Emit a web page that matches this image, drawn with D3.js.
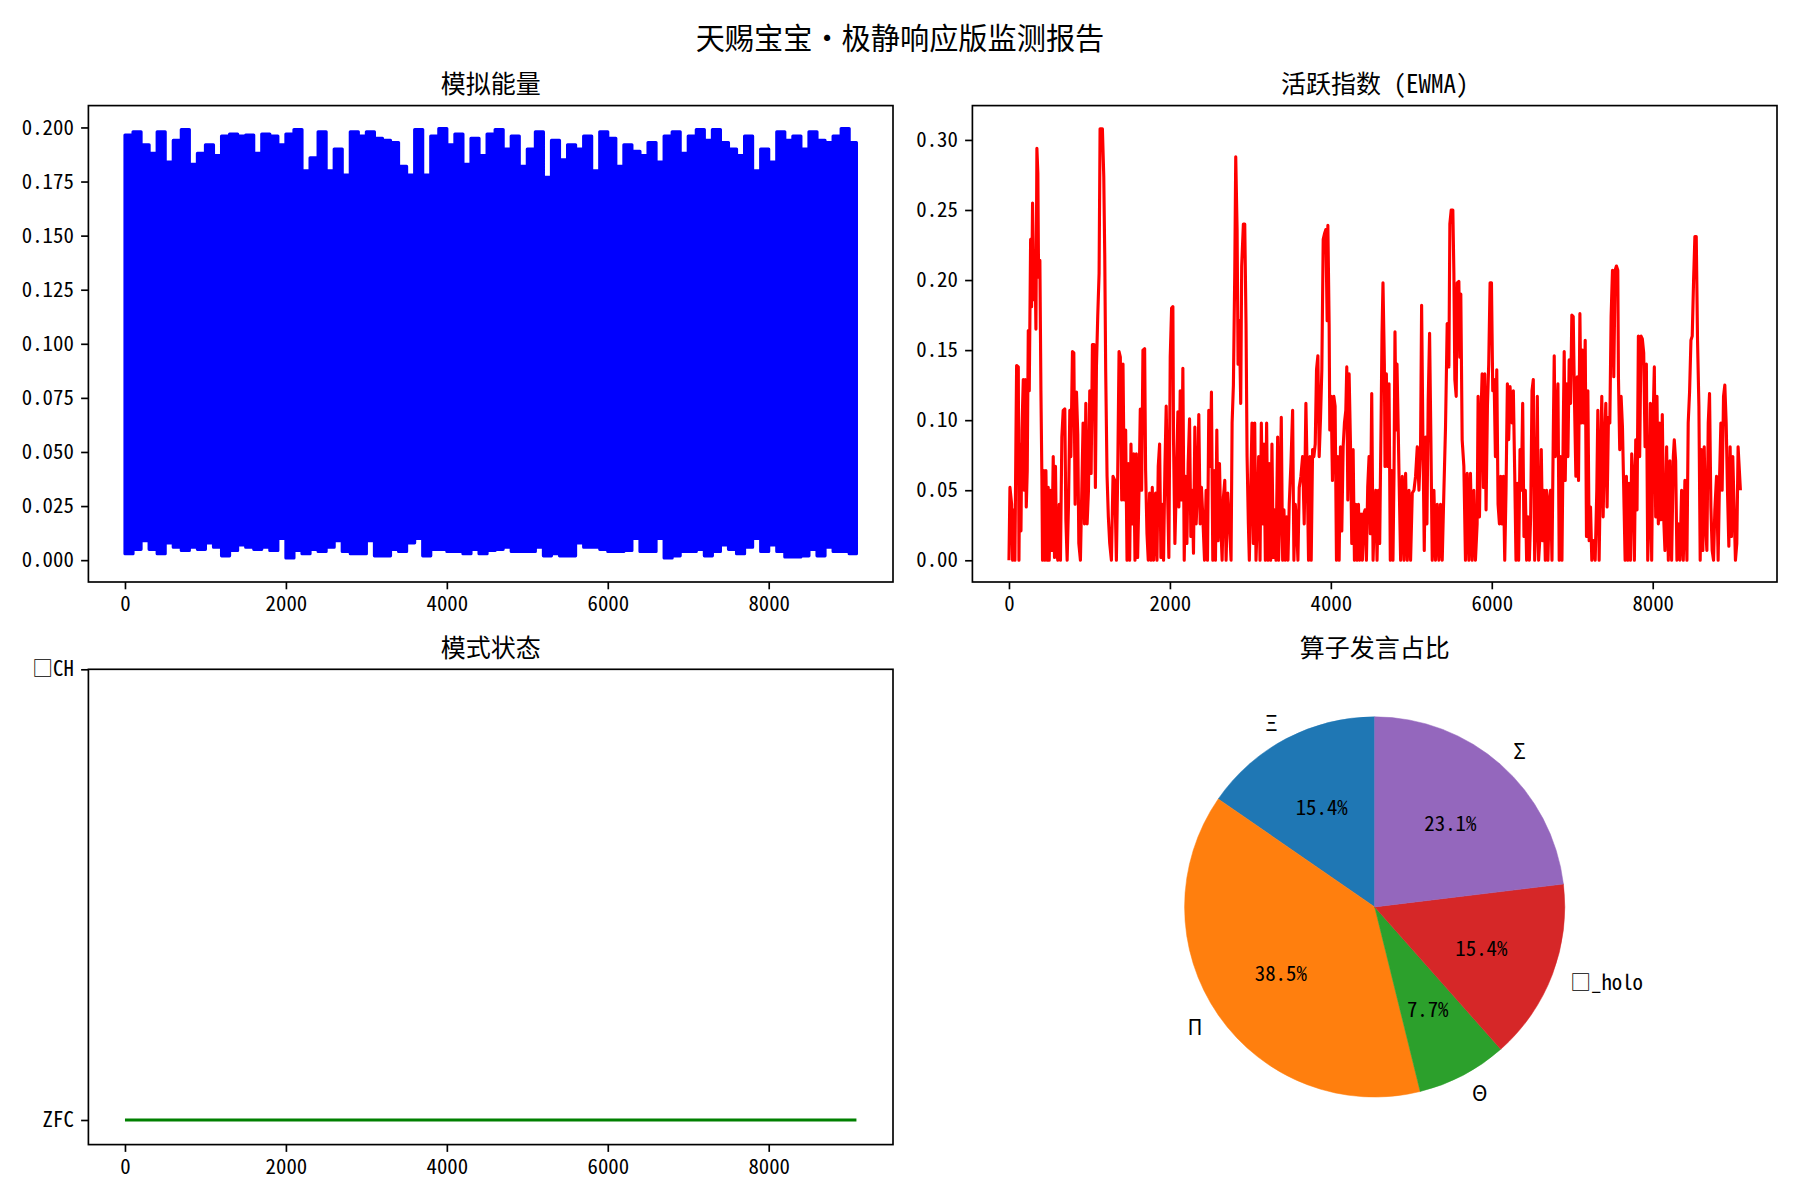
<!DOCTYPE html>
<html><head><meta charset="utf-8">
<script src="https://cdn.jsdelivr.net/npm/d3@7"></script>
<style>
body{margin:0;background:#fff}
text{font-family:"Noto Sans CJK SC","Noto Sans",sans-serif;}
.hw{font-feature-settings:"hwid" 1;}
</style></head><body>
<svg id="chart" width="1800" height="1200"></svg>
<script>
// ---------------- DATA ----------------
const suptitle = "天赐宝宝・极静响应版监测报告";
const panelTitles = ["模拟能量", "活跃指数 (EWMA)", "模式状态", "算子发言占比"];
const lastIndex = 9090;               // samples 0 .. 9090
const xTickValues = [0, 2000, 4000, 6000, 8000];

// 模拟能量: per-100-sample envelope (max / min)
const energyBin = 100;
const energyHigh = [0.1965,0.198,0.192,0.188,0.198,0.184,0.194,0.199,0.183,0.188,
 0.192,0.187,0.196,0.197,0.196,0.1965,0.188,0.197,0.196,0.192,
 0.197,0.199,0.180,0.186,0.198,0.180,0.190,0.178,0.198,0.196,
 0.198,0.195,0.194,0.193,0.182,0.178,0.199,0.178,0.196,0.1995,
 0.192,0.197,0.183,0.195,0.187,0.197,0.199,0.190,0.196,0.182,
 0.190,0.198,0.177,0.194,0.185,0.192,0.190,0.196,0.180,0.198,
 0.195,0.182,0.192,0.189,0.187,0.193,0.184,0.196,0.198,0.188,
 0.196,0.199,0.194,0.199,0.193,0.190,0.187,0.196,0.180,0.190,
 0.184,0.198,0.194,0.196,0.190,0.198,0.194,0.193,0.196,0.1995,0.193];
const energyLow = [0.003,0.005,0.009,0.005,0.003,0.008,0.006,0.0045,0.006,0.005,
 0.008,0.006,0.002,0.0045,0.007,0.006,0.005,0.006,0.0045,0.010,
 0.001,0.0045,0.003,0.005,0.004,0.006,0.009,0.004,0.003,0.003,
 0.009,0.002,0.002,0.005,0.004,0.008,0.010,0.002,0.005,0.005,
 0.004,0.004,0.003,0.005,0.003,0.0045,0.005,0.006,0.004,0.004,
 0.004,0.006,0.002,0.003,0.002,0.002,0.008,0.006,0.006,0.005,
 0.004,0.004,0.0045,0.010,0.004,0.004,0.010,0.001,0.002,0.004,
 0.004,0.005,0.002,0.004,0.007,0.005,0.003,0.006,0.010,0.004,
 0.007,0.004,0.0015,0.0015,0.002,0.005,0.002,0.006,0.004,0.004,0.003];
const energyTicks = [0,0.025,0.05,0.075,0.1,0.125,0.15,0.175,0.2];

// 活跃指数 (EWMA): [sample index, value] turning points
const ewmaPoints = [[0,0],[12,0.052],[33,0.040],[45,0],[62,0.036],[74,0],[87,0.090],[95,0.139],[116,0.138],[124,0],
[136,0.083],[149,0.021],[161,0.093],[178,0.129],[190,0.050],[202,0.129],[215,0.038],[227,0.064],[240,0.164],[252,0.121],
[269,0.229],[281,0.181],[293,0.255],[310,0.186],[322,0.221],[335,0.165],[347,0.294],[359,0.276],[368,0.202],[384,0.214],
[397,0.121],[409,0.060],[417,0],[434,0.064],[446,0],[459,0.064],[475,0],[488,0.052],[500,0],[517,0.050],
[533,0.007],[550,0.074],[566,0.002],[578,0.067],[591,0.007],[607,0],[624,0.040],[640,0],[657,0.088],[674,0.107],
[694,0.108],[707,0.029],[723,0],[740,0.040],[756,0.107],[769,0.074],[789,0.149],[806,0.148],[822,0.040],[839,0.120],
[855,0.090],[868,0.012],[888,0],[905,0.050],[921,0.098],[938,0.026],[955,0.112],[971,0.026],[988,0.050],[1004,0.121],
[1021,0.062],[1037,0.154],[1058,0.154],[1074,0.052],[1087,0.138],[1103,0.174],[1120,0.205],[1132,0.308],[1161,0.308],[1178,0.274],
[1190,0.219],[1202,0.135],[1219,0.060],[1235,0.031],[1252,0.012],[1273,0],[1293,0.060],[1314,0.057],[1335,0],[1351,0.060],
[1368,0.149],[1384,0.145],[1401,0.043],[1417,0.140],[1434,0.043],[1450,0.093],[1467,0],[1483,0.069],[1500,0],[1516,0.083],
[1533,0.026],[1550,0.076],[1566,0],[1583,0.076],[1599,0.002],[1616,0.050],[1632,0.108],[1649,0.050],[1665,0.150],[1686,0.151],
[1698,0.064],[1715,0.019],[1731,0],[1748,0.048],[1764,0],[1781,0.052],[1797,0],[1822,0.048],[1839,0],[1855,0.067],
[1872,0.083],[1888,0.002],[1905,0.040],[1921,0],[1938,0.067],[1954,0.110],[1971,0.048],[1987,0.002],[2004,0.145],[2021,0.180],
[2037,0.181],[2045,0.086],[2062,0.012],[2078,0.050],[2099,0.106],[2111,0.038],[2128,0.121],[2145,0.043],[2161,0.137],[2178,0],
[2194,0.060],[2211,0.012],[2227,0.069],[2244,0.101],[2260,0.017],[2277,0.050],[2293,0.005],[2310,0.095],[2326,0.026],[2343,0.050],
[2359,0.104],[2376,0.026],[2392,0.052],[2409,0.031],[2430,0],[2450,0.050],[2467,0],[2483,0.107],[2500,0.067],[2516,0.120],
[2533,0],[2549,0.064],[2566,0],[2583,0.093],[2599,0.014],[2616,0.069],[2632,0.026],[2649,0],[2665,0.045],[2682,0.057],
[2698,0],[2719,0.048],[2740,0.026],[2760,0],[2773,0.098],[2789,0.125],[2806,0.206],[2818,0.288],[2835,0.236],[2847,0.140],
[2863,0.171],[2880,0.112],[2892,0.210],[2913,0.240],[2930,0.240],[2946,0.169],[2959,0.074],[2975,0.026],[2987,0],[3004,0.050],
[3020,0.098],[3037,0.012],[3054,0.098],[3070,0],[3087,0.031],[3103,0.074],[3120,0],[3136,0.098],[3153,0.026],[3169,0.083],
[3186,0],[3202,0.098],[3219,0],[3235,0.069],[3252,0],[3268,0.083],[3285,0.002],[3301,0.036],[3318,0],[3339,0.088],
[3351,0],[3368,0.038],[3384,0.102],[3401,0],[3417,0.036],[3434,0],[3450,0.031],[3467,0],[3483,0.040],[3504,0.069],
[3525,0.107],[3541,0],[3558,0.040],[3574,0.026],[3591,0],[3607,0.052],[3628,0.060],[3649,0.074],[3669,0.026],[3690,0.112],
[3706,0.062],[3723,0],[3740,0.074],[3756,0],[3773,0.079],[3789,0.074],[3806,0.083],[3822,0.136],[3839,0.146],[3855,0.074],
[3872,0.102],[3888,0.136],[3905,0.229],[3921,0.233],[3938,0.236],[3954,0.171],[3963,0.239],[3979,0.167],[3987,0.093],[4004,0.117],
[4020,0.057],[4037,0.117],[4053,0.110],[4070,0],[4087,0.074],[4103,0],[4120,0.081],[4136,0.021],[4153,0.081],[4169,0.098],
[4186,0.107],[4198,0.138],[4211,0.043],[4227,0.133],[4244,0.083],[4260,0.012],[4277,0.079],[4293,0],[4310,0.040],[4326,0],
[4343,0.040],[4359,0],[4376,0.033],[4392,0],[4409,0.033],[4425,0.036],[4442,0],[4458,0.052],[4475,0.074],[4491,0.019],
[4508,0.119],[4525,0],[4541,0.033],[4558,0.050],[4574,0],[4591,0.050],[4607,0.012],[4624,0.098],[4636,0.162],[4648,0.198],
[4665,0.140],[4673,0.067],[4690,0.133],[4706,0.067],[4723,0.126],[4739,0],[4756,0.064],[4772,0],[4785,0.062],[4797,0.163],
[4810,0.093],[4822,0.140],[4839,0.088],[4847,0.062],[4867,0],[4888,0.060],[4909,0],[4929,0.062],[4950,0],[4971,0.050],
[4991,0],[5012,0.048],[5033,0.050],[5053,0.060],[5074,0.081],[5095,0.050],[5115,0.083],[5128,0.182],[5144,0.088],[5161,0.007],
[5177,0.088],[5194,0.026],[5210,0.114],[5227,0.162],[5243,0.088],[5260,0],[5281,0.050],[5301,0],[5322,0.040],[5343,0],
[5363,0.040],[5384,0],[5405,0.050],[5425,0.095],[5446,0.169],[5467,0.138],[5479,0.240],[5496,0.250],[5516,0.250],[5529,0.205],
[5541,0.129],[5558,0.117],[5570,0.198],[5591,0.199],[5603,0.145],[5615,0.190],[5632,0.086],[5653,0.067],[5673,0],[5694,0.062],
[5715,0],[5735,0.062],[5756,0],[5777,0.050],[5797,0],[5818,0.026],[5830,0.117],[5847,0.031],[5863,0.098],[5880,0.133],
[5896,0.052],[5913,0.133],[5929,0.036],[5946,0.110],[5962,0.140],[5979,0.198],[5996,0.198],[6012,0.121],[6029,0.129],[6045,0.074],
[6062,0.136],[6078,0.040],[6095,0.026],[6111,0.060],[6128,0.026],[6144,0.060],[6161,0],[6177,0.050],[6194,0.126],[6210,0.086],
[6227,0.124],[6252,0.098],[6268,0.121],[6285,0.062],[6301,0],[6318,0.055],[6334,0],[6351,0.079],[6367,0.050],[6384,0.112],
[6400,0.017],[6417,0.050],[6433,0],[6450,0.031],[6467,0],[6483,0.031],[6500,0.121],[6516,0.129],[6533,0],[6549,0.026],
[6566,0.117],[6582,0],[6599,0.017],[6615,0.079],[6632,0.014],[6648,0.050],[6665,0],[6681,0.050],[6698,0],[6715,0.043],
[6731,0.050],[6748,0],[6764,0.088],[6776,0.146],[6789,0.074],[6805,0.095],[6822,0.126],[6838,0],[6855,0.074],[6872,0],
[6888,0.093],[6900,0.149],[6913,0.057],[6929,0.126],[6946,0.074],[6962,0.143],[6979,0.112],[6995,0.175],[7012,0.174],[7029,0.110],
[7045,0.060],[7062,0.131],[7078,0.057],[7095,0.176],[7111,0.098],[7128,0.150],[7144,0.098],[7161,0.157],[7177,0.017],[7194,0.121],
[7210,0.014],[7227,0.038],[7243,0],[7264,0.014],[7285,0],[7305,0.050],[7318,0.107],[7334,0],[7351,0.067],[7367,0.117],
[7384,0.031],[7400,0.081],[7417,0.112],[7433,0.038],[7450,0.102],[7467,0.098],[7483,0.174],[7500,0.207],[7516,0.131],[7533,0.207],
[7549,0.210],[7566,0.207],[7574,0.131],[7590,0.079],[7607,0.117],[7624,0.095],[7640,0.050],[7657,0],[7673,0.060],[7690,0],
[7706,0.055],[7723,0],[7739,0.076],[7756,0.057],[7772,0],[7789,0.086],[7805,0.036],[7822,0.160],[7838,0.074],[7855,0.160],
[7871,0.158],[7888,0.148],[7905,0.081],[7921,0.140],[7938,0],[7954,0.031],[7971,0.112],[7987,0],[8004,0.098],[8020,0.138],
[8037,0.031],[8053,0.117],[8070,0.026],[8086,0.098],[8103,0.029],[8119,0.104],[8136,0.031],[8152,0.007],[8173,0.081],[8194,0],
[8214,0.071],[8235,0],[8256,0.074],[8268,0.086],[8285,0.071],[8301,0],[8318,0.026],[8338,0],[8359,0.050],[8380,0],
[8400,0.057],[8425,0],[8441,0.098],[8458,0.120],[8475,0.157],[8491,0.160],[8508,0.200],[8524,0.231],[8541,0.231],[8557,0.157],
[8574,0.110],[8590,0],[8607,0.079],[8623,0.007],[8640,0.081],[8657,0.026],[8673,0.007],[8690,0.098],[8706,0.119],[8723,0.038],
[8739,0.007],[8756,0],[8772,0.036],[8793,0.060],[8813,0],[8830,0.057],[8847,0.098],[8863,0.050],[8880,0.117],[8896,0.125],
[8913,0.098],[8929,0.050],[8946,0.010],[8962,0.081],[8979,0.017],[8995,0.074],[9012,0.036],[9028,0],[9045,0.012],[9061,0.081],
[9090,0.050]];
const ewmaTicks = [0,0.05,0.1,0.15,0.2,0.25,0.3];

// 模式状态: categories and runs
const modeCategories = ["ZFC", "□CH"];
const modeRuns = [{state: "ZFC", from: 0, to: 9090}];

// 算子发言占比
const operators = ["Ξ", "Π", "Θ", "□_holo", "Σ"];
const operatorCounts = [2, 5, 1, 2, 3];
const operatorColors = ["#1f77b4", "#ff7f0e", "#2ca02c", "#d62728", "#9467bd"];

// ---------------- LAYOUT ----------------
const LW = 3.125, SPINE = 1.67, TICK = 7.29, PAD = 7.29, TFS = 20.8, TITLEFS = 25;
const col1 = [88.4, 893], col2 = [972.4, 1777];
const row1 = [105.6, 582], row2 = [669.3, 1144.6];
const xDomain = [-454.5, 9544.5];

const svg = d3.select("#chart");
svg.append("rect").attr("width", 1800).attr("height", 1200).attr("fill", "#fff");

svg.append("text").attr("x", 900).attr("y", 49).attr("text-anchor", "middle")
  .attr("font-size", 29.2).attr("fill", "#000").text(suptitle);

let clipId = 0;
function makePanel(cols, rows, title) {
  const g = svg.append("g");
  const id = "clip" + (clipId++);
  g.append("clipPath").attr("id", id).append("rect")
    .attr("x", cols[0]).attr("y", rows[0]).attr("width", cols[1] - cols[0]).attr("height", rows[1] - rows[0]);
  g.append("text").attr("x", (cols[0] + cols[1]) / 2).attr("y", rows[0] - 12.5)
    .attr("text-anchor", "middle").attr("font-size", TITLEFS).attr("fill", "#000")
    .attr("class", "hw").text(title);
  const plot = g.append("g").attr("clip-path", `url(#${id})`);
  return {g, plot};
}
function styleAxis(a) {
  a.select(".domain").remove();
  a.attr("font-family", null).attr("font-size", null);
  a.selectAll("line").attr("stroke", "#000").attr("stroke-width", SPINE);
  a.selectAll("text").attr("font-size", TFS).attr("fill", "#000").attr("class", "hw");
}
function axesDecor(p, x, y, yTickVals, yFmt, cols, rows) {
  const ax = p.g.append("g").attr("transform", `translate(0,${rows[1]})`)
    .call(d3.axisBottom(x).tickValues(xTickValues).tickFormat(d3.format("d"))
      .tickSizeInner(TICK).tickSizeOuter(0).tickPadding(PAD));
  styleAxis(ax);
  const ay = p.g.append("g").attr("transform", `translate(${cols[0]},0)`)
    .call(d3.axisLeft(y).tickValues(yTickVals).tickFormat(yFmt)
      .tickSizeInner(TICK).tickSizeOuter(0).tickPadding(PAD));
  styleAxis(ay);
  p.g.append("rect").attr("x", cols[0]).attr("y", rows[0])
    .attr("width", cols[1] - cols[0]).attr("height", rows[1] - rows[0])
    .attr("fill", "none").attr("stroke", "#000").attr("stroke-width", SPINE);
}

// ---- Panel 1: 模拟能量 ----
{
  const p = makePanel(col1, row1, panelTitles[0]);
  const x = d3.scaleLinear().domain(xDomain).range(col1);
  const y = d3.scaleLinear().domain([-0.0101, 0.2101]).range([row1[1], row1[0]]);
  const steps = energyHigh.flatMap((h, k) => {
    const a = k * energyBin, b = Math.min((k + 1) * energyBin, lastIndex);
    return [{i: a, hi: h, lo: energyLow[k]}, {i: b, hi: h, lo: energyLow[k]}];
  });
  const area = d3.area().x(d => x(d.i)).y0(d => y(d.lo)).y1(d => y(d.hi));
  p.plot.append("path").attr("d", area(steps)).attr("fill", "#0000ff")
    .attr("stroke", "#0000ff").attr("stroke-width", LW).attr("stroke-linejoin", "round");
  axesDecor(p, x, y, energyTicks, d3.format(".3f"), col1, row1);
}

// ---- Panel 2: 活跃指数 ----
{
  const p = makePanel(col2, row1, panelTitles[1]);
  const x = d3.scaleLinear().domain(xDomain).range(col2);
  const y = d3.scaleLinear().domain([-0.0155, 0.3245]).range([row1[1], row1[0]]);
  const line = d3.line().x(d => x(d[0])).y(d => y(d[1]));
  p.plot.append("path").attr("d", line(ewmaPoints)).attr("fill", "none")
    .attr("stroke", "#ff0000").attr("stroke-width", LW).attr("stroke-linejoin", "round");
  axesDecor(p, x, y, ewmaTicks, d3.format(".2f"), col2, row1);
}

// ---- Panel 3: 模式状态 ----
{
  const p = makePanel(col1, row2, panelTitles[2]);
  const x = d3.scaleLinear().domain(xDomain).range(col1);
  const y = d3.scaleLinear().domain([-0.0546, 1]).range([row2[1], row2[0]]);
  const line = d3.line().x(d => x(d[0])).y(d => y(d[1]));
  modeRuns.forEach(r => {
    const c = modeCategories.indexOf(r.state);
    p.plot.append("path").attr("d", line([[r.from, c], [r.to, c]])).attr("fill", "none")
      .attr("stroke", "#008000").attr("stroke-width", LW);
  });
  axesDecor(p, x, y, [0, 1], d => modeCategories[d], col1, row2);
}

// ---- Panel 4: 算子发言占比 ----
{
  const cx = (col2[0] + col2[1]) / 2, cy = (row2[0] + row2[1]) / 2;
  const R = (row2[1] - row2[0]) / 2.5;
  const g = svg.append("g");
  g.append("text").attr("x", cx).attr("y", row2[0] - 12.5).attr("text-anchor", "middle")
    .attr("font-size", TITLEFS).attr("fill", "#000").text(panelTitles[3]);
  const total = d3.sum(operatorCounts);
  const arcs = d3.pie().sort(null).value(d => d).startAngle(0).endAngle(-2 * Math.PI)(operatorCounts);
  const arc = d3.arc().innerRadius(0).outerRadius(R);
  const pg = g.append("g").attr("transform", `translate(${cx},${cy})`);
  pg.selectAll("path").data(arcs).join("path").attr("d", arc)
    .attr("fill", (d, i) => operatorColors[i]).attr("stroke", (d, i) => operatorColors[i]).attr("stroke-width", 0.5);
  arcs.forEach((a, i) => {
    const m = (a.startAngle + a.endAngle) / 2;
    const sx = Math.sin(m), sy = -Math.cos(m);
    pg.append("text").attr("x", 1.1 * R * sx).attr("y", 1.1 * R * sy)
      .attr("text-anchor", sx > 0 ? "start" : "end").attr("dominant-baseline", "central")
      .attr("font-size", TFS).attr("fill", "#000").attr("class", "hw").text(operators[i]);
    pg.append("text").attr("x", 0.6 * R * sx).attr("y", 0.6 * R * sy)
      .attr("text-anchor", "middle").attr("dominant-baseline", "central")
      .attr("font-size", TFS).attr("fill", "#000").attr("class", "hw")
      .text(d3.format(".1f")(operatorCounts[i] / total * 100) + "%");
  });
}
</script>
</body></html>
